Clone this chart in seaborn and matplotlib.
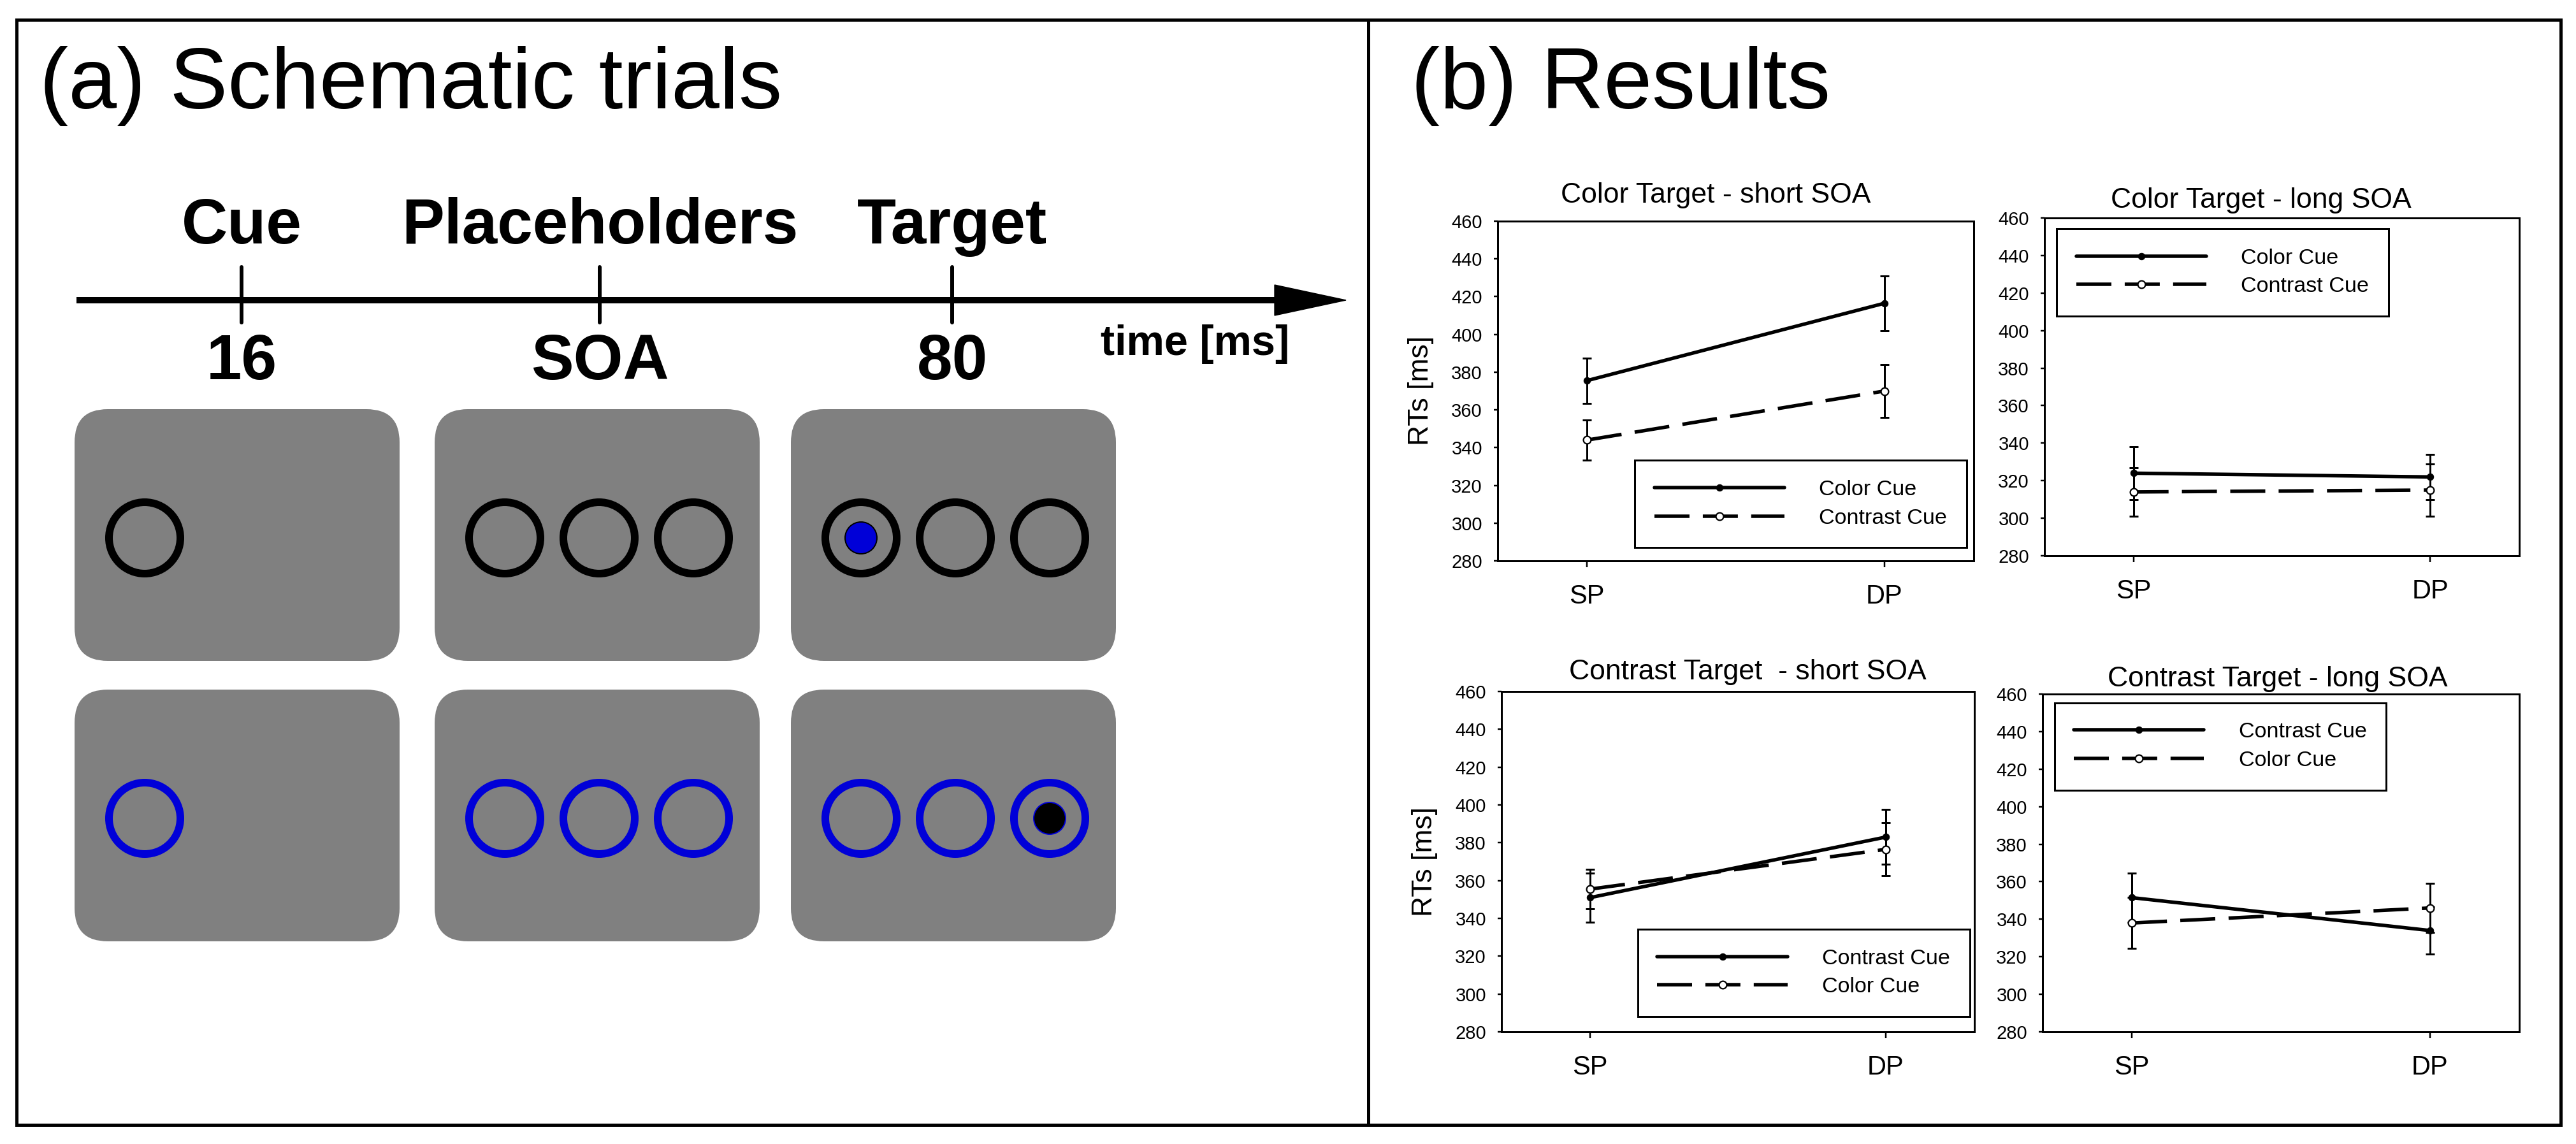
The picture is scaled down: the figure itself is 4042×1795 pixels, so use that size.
import numpy as np
import pandas as pd
import matplotlib
matplotlib.use("Agg")
import matplotlib.pyplot as plt
import seaborn as sns
from matplotlib.patches import FancyBboxPatch, Circle, Polygon, Rectangle

# ---- values ----
positions = ["SP", "DP"]

panel_titles = ["Color Target - short SOA", "Color Target - long SOA",
                "Contrast Target  - short SOA", "Contrast Target - long SOA"]

# first series = solid line / filled dot, second = dashed line / open dot
cue_labels = [["Color Cue", "Contrast Cue"], ["Color Cue", "Contrast Cue"],
              ["Contrast Cue", "Color Cue"], ["Contrast Cue", "Color Cue"]]

solid_rt = [[375.5, 416.5], [324, 322], [351, 383], [351.5, 334]]
solid_err = [[12, 14.5], [14, 12], [13, 14.5], [13, 12.5]]
dashed_rt = [[344, 370], [314, 315], [355.5, 376.5], [338, 346]]
dashed_err = [[10.5, 14], [13, 14], [10.5, 14], [13.5, 13]]

yticks = list(range(280, 461, 20))

# schematic trials
events = ["Cue", "Placeholders", "Target"]
durations = ["16", "SOA", "80"]
ring_counts = [1, 3, 3]
row_ring_colors = ["black", "#0000d8"]
row_dot_colors = ["#0000d8", "black"]
row_dot_slots = [0, 2]

W, H = 4042, 1795


def pt(px):
    # pixel sizes -> points at dpi 100
    return px * 0.72


sns.set_style("white")
plt.rcParams["font.family"] = ["Liberation Sans", "DejaVu Sans"]
plt.rcParams["text.color"] = "black"
plt.rcParams["axes.labelcolor"] = "black"
plt.rcParams["xtick.color"] = "black"
plt.rcParams["ytick.color"] = "black"

fig = plt.figure(figsize=(W / 100, H / 100), dpi=100)

# canvas in pixel coordinates for the frame and the schematic
canvas = fig.add_axes([0, 0, 1, 1])
canvas.set_xlim(0, W)
canvas.set_ylim(H, 0)
canvas.axis("off")

canvas.add_patch(Rectangle((26, 31), 3992, 1734, fill=False, ec="black", lw=pt(5)))
canvas.plot([2147, 2147], [31, 1765], color="black", lw=pt(5))

canvas.text(62, 170, "(a) Schematic trials", fontsize=98, va="baseline")
canvas.text(2214, 170, "(b) Results", fontsize=98, va="baseline")

# time line
canvas.plot([120, 2005], [471, 471], color="black", lw=pt(10), solid_capstyle="butt")
canvas.add_patch(Polygon([[2000, 447], [2112, 471], [2000, 495]], closed=True, fc="black", ec="black"))
tick_x = [379, 941, 1494]
for tx, ev, du in zip(tick_x, events, durations):
    canvas.plot([tx, tx], [419, 506], color="black", lw=pt(6))
    canvas.text(tx, 382, ev, fontsize=72, fontweight="bold", ha="center", va="baseline")
    canvas.text(tx, 595, du, fontsize=72, fontweight="bold", ha="center", va="baseline")
canvas.text(1875, 557, "time [ms]", fontsize=48, fontweight="bold", ha="center", va="baseline")

# trial displays
panel_left = [117, 682, 1241]
row_top = [642, 1082]
panel_w, panel_h = 510, 395
ring_dx = [110, 258, 406]
for r, top in enumerate(row_top):
    for c, left in enumerate(panel_left):
        canvas.add_patch(FancyBboxPatch((left, top), panel_w, panel_h,
                                        boxstyle="round,pad=0,rounding_size=52",
                                        fc="#808080", ec="none"))
        cy = top + 202
        for k in range(ring_counts[c]):
            cx = left + ring_dx[k]
            canvas.add_patch(Circle((cx, cy), 56, fill=False, ec=row_ring_colors[r], lw=pt(12)))
            if c == 2 and k == row_dot_slots[r]:
                canvas.add_patch(Circle((cx, cy), 25, fc=row_dot_colors[r], ec=row_ring_colors[r], lw=pt(2)))

# result panels
axes_px = [(2350, 347, 3097, 880), (3208, 342, 3953, 872),
           (2356, 1085, 3098, 1619), (3205, 1089, 3953, 1619)]
title_x = [0.458, 0.456, 0.52, 0.493]
title_pad = [21, 11.5, 14, 9]
legend_loc = ["lower right", "upper left", "lower right", "upper left"]
legend_anchor = [(0.985, 0.039), (0.0255, 0.968), (0.99, 0.045), (0.025, 0.974)]

x = np.arange(len(positions))
for i, (l, t, r, b) in enumerate(axes_px):
    ax = fig.add_axes([l / W, 1 - b / H, (r - l) / W, (b - t) / H])

    ax.errorbar(x, solid_rt[i], yerr=solid_err[i], fmt="none", ecolor="black",
                elinewidth=pt(3), capsize=5, capthick=pt(3), zorder=2)
    ax.errorbar(x, dashed_rt[i], yerr=dashed_err[i], fmt="none", ecolor="black",
                elinewidth=pt(3), capsize=5, capthick=pt(3), zorder=2)

    sns.lineplot(x=x, y=solid_rt[i], ax=ax, color="black", lw=pt(5.5),
                 marker="o", markersize=7.5, markerfacecolor="black",
                 markeredgecolor="black", label=cue_labels[i][0], zorder=3)
    sns.lineplot(x=x, y=dashed_rt[i], ax=ax, color="black", lw=pt(5.5),
                 linestyle=(0, (10, 3.8)), marker="o", markersize=8.5,
                 markerfacecolor="white", markeredgecolor="black",
                 markeredgewidth=1.6, label=cue_labels[i][1], zorder=3)

    ax.set_xlim(-0.3, 1.3)
    ax.set_ylim(280, 460)
    ax.set_yticks(yticks)
    ax.set_xticks(x, positions)
    ax.tick_params(axis="y", left=True, direction="out", length=pt(6), width=pt(2.5),
                   labelsize=21, pad=13)
    ax.tick_params(axis="x", bottom=True, direction="out", length=pt(10), width=pt(2.5),
                   labelsize=30, pad=19)
    for sp in ax.spines.values():
        sp.set_visible(True)
        sp.set_color("black")
        sp.set_linewidth(pt(3))

    ax.set_title(panel_titles[i], fontsize=32, x=title_x[i], pad=title_pad[i])
    ax.set_xlabel("")
    if i % 2 == 0:
        ax.set_ylabel("RTs [ms]", fontsize=32, labelpad=20)

    leg = ax.legend(loc=legend_loc[i], bbox_to_anchor=legend_anchor[i], frameon=True,
                    fancybox=False, edgecolor="black", framealpha=1, fontsize=24.5,
                    handlelength=6.0, handletextpad=1.6, borderpad=0.9,
                    labelspacing=0.4, borderaxespad=0)
    leg.get_frame().set_linewidth(pt(3))

fig.savefig("out.png", dpi=100, facecolor="white")
